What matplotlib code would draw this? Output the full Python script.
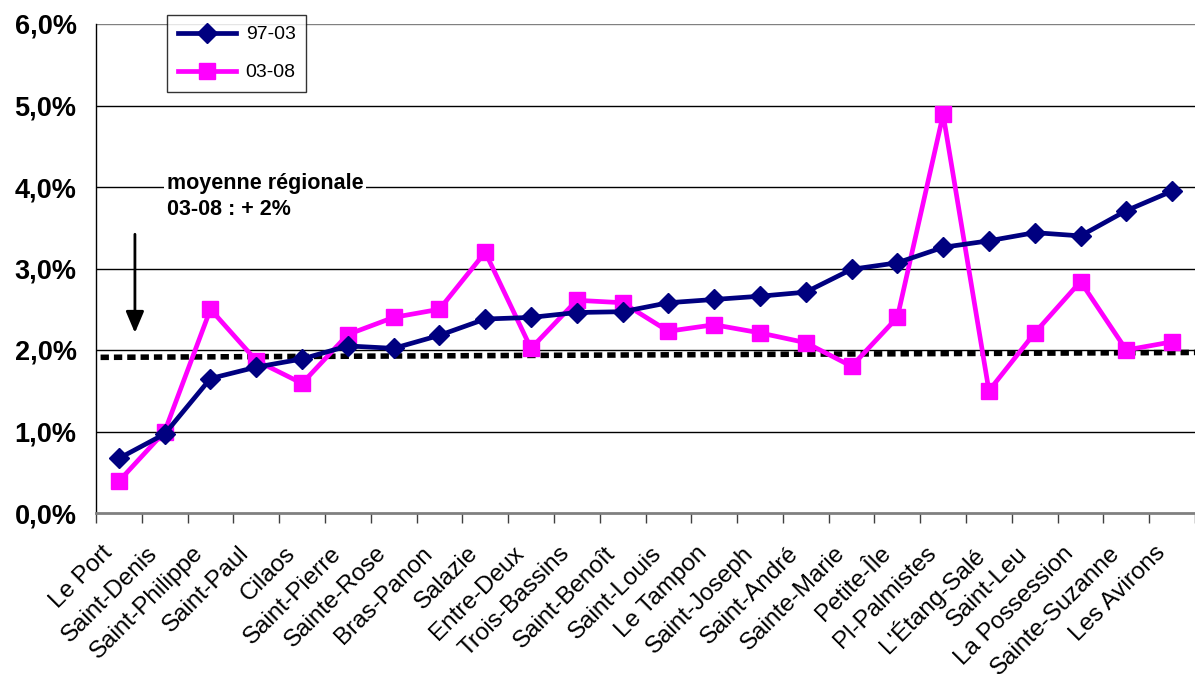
import numpy as np
import matplotlib
matplotlib.use("Agg")
import matplotlib.pyplot as plt
from matplotlib.transforms import ScaledTranslation

plt.rcParams['font.family'] = ['Liberation Sans', 'DejaVu Sans']

communes = ['Le Port', 'Saint-Denis', 'Saint-Philippe', 'Saint-Paul', 'Cilaos',
            'Saint-Pierre', 'Sainte-Rose', 'Bras-Panon', 'Salazie', 'Entre-Deux',
            'Trois-Bassins', 'Saint-Benoît', 'Saint-Louis', 'Le Tampon',
            'Saint-Joseph', 'Saint-André', 'Sainte-Marie', 'Petite-Île',
            'Pl-Palmistes', "L'Étang-Salé", 'Saint-Leu', 'La Possession',
            'Sainte-Suzanne', 'Les Avirons']

# taux de croissance annuel moyen (%)
t_97_03 = [0.67, 0.97, 1.65, 1.79, 1.89, 2.05, 2.02, 2.18, 2.38, 2.40,
           2.46, 2.47, 2.58, 2.62, 2.66, 2.71, 2.99, 3.07, 3.26, 3.34,
           3.44, 3.40, 3.71, 3.95]
t_03_08 = [0.39, 1.00, 2.50, 1.87, 1.59, 2.19, 2.40, 2.50, 3.20, 2.02,
           2.61, 2.58, 2.23, 2.31, 2.21, 2.09, 1.80, 2.40, 4.89, 1.50,
           2.21, 2.84, 2.00, 2.10]

# ligne "moyenne régionale" (début, fin)
moy_reg = [1.91, 1.97]
yticks = [0, 1, 2, 3, 4, 5, 6]

navy = '#000080'
magenta = '#FF00FF'

fig = plt.figure(figsize=(11.95, 6.74), dpi=100)
ax = fig.add_axes([96/1195, 1 - 513/674, 1 - 96/1195, (513 - 24)/674])

x = np.arange(len(communes))

for v in yticks[1:]:
    ax.axhline(v, color='black' if v < 6 else '#808080', lw=1.0, zorder=1)

ax.plot([-0.4, len(communes) - 0.5], moy_reg, color='black', lw=4,
        ls=(0, (1.5, 0.9)), zorder=2, solid_capstyle='butt')

ax.plot(x, t_97_03, color=navy, lw=3.4, marker='D', ms=10,
        label='97-03', zorder=4)
ax.plot(x, t_03_08, color=magenta, lw=3.4, marker='s', ms=11,
        label='03-08', zorder=3)

ax.set_xlim(-0.5, len(communes) - 0.5)
ax.set_ylim(0, 6)
ax.set_yticks(yticks)
ax.set_yticklabels([f'{v:.1f}%'.replace('.', ',') for v in yticks],
                   fontsize=19.5, fontweight='bold')
ax.tick_params(axis='y', length=0, pad=14)

ax.set_xticks(x)
ax.set_xticklabels(communes, rotation=45, ha='right', rotation_mode='anchor',
                   fontsize=17.5)
ax.tick_params(axis='x', which='major', length=0, pad=21)
shift = ScaledTranslation(-18/100, 0, fig.dpi_scale_trans)
for lab in ax.get_xticklabels():
    lab.set_transform(lab.get_transform() + shift)
ax.set_xticks(np.arange(len(communes) + 1) - 0.5, minor=True)
ax.tick_params(axis='x', which='minor', length=7, direction='out',
               color='#404040', width=1)

for s in ['top', 'right']:
    ax.spines[s].set_visible(False)
ax.spines['left'].set_color('black')
ax.spines['left'].set_linewidth(1.0)
ax.spines['bottom'].set_color('#808080')
ax.spines['bottom'].set_linewidth(2)

ax.text(1.05, 4.17, 'moyenne régionale\n03-08 : + 2%', fontsize=15.5,
        fontweight='bold', va='top', ha='left', linespacing=1.3,
        bbox=dict(facecolor='white', edgecolor='none', pad=2), zorder=5)
ax.annotate('', xy=(0.35, 2.21), xytext=(0.35, 3.42),
            arrowprops=dict(arrowstyle='-|>,head_width=0.55,head_length=1.3',
                            color='black', lw=2, shrinkA=0, shrinkB=0))

leg = fig.legend(loc='upper left', bbox_to_anchor=(167/1195, 1 - 15/674),
                 fontsize=14, frameon=True, fancybox=False, handlelength=3.0,
                 labelspacing=1.05, borderpad=0.55, handletextpad=0.5,
                 borderaxespad=0)
leg.get_frame().set_edgecolor('black')
leg.get_frame().set_linewidth(1.0)

fig.savefig('out.png', dpi=100)
